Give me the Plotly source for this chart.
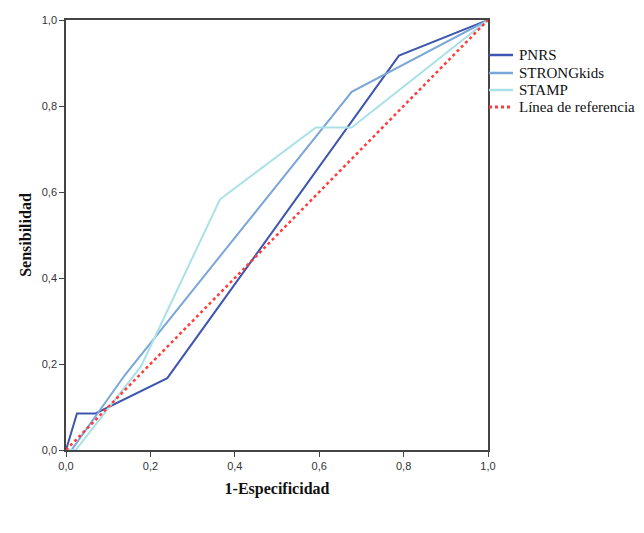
import plotly.graph_objects as go

# ROC curve data (1-Especificidad, Sensibilidad)
pnrs_x = [0.0, 0.0, 0.026, 0.07, 0.24, 0.789, 1.0]
pnrs_y = [0.0, 0.0, 0.085, 0.085, 0.167, 0.917, 1.0]

strong_x = [0.0, 0.013, 0.14, 0.677, 1.0]
strong_y = [0.0, 0.0, 0.175, 0.833, 1.0]

stamp_x = [0.0, 0.023, 0.178, 0.365, 0.592, 0.677, 1.0]
stamp_y = [0.0, 0.0, 0.195, 0.583, 0.75, 0.75, 1.0]

ref_x = [0.0, 1.0]
ref_y = [0.0, 1.0]

names = ["PNRS", "STRONGkids", "STAMP", "Línea de referencia"]
colors = ["#3E56AF", "#7AA6D8", "#A9E1E8", "#FF3B3B"]
dashes = ["solid", "solid", "solid", "dot"]
widths = [2, 2, 2, 2.5]

fig = go.Figure()
series = [(pnrs_x, pnrs_y), (strong_x, strong_y), (stamp_x, stamp_y), (ref_x, ref_y)]
for (xs, ys), nm, c, d, w in zip(series, names, colors, dashes, widths):
    fig.add_trace(go.Scatter(x=xs, y=ys, mode="lines", name=nm, showlegend=False,
                             line=dict(color=c, width=w, dash=d)))

axis_common = dict(
    range=[0, 1], tickvals=[0, 0.2, 0.4, 0.6, 0.8, 1.0], tickformat=".1f",
    showgrid=False, zeroline=False, showline=True, linecolor="#444444",
    linewidth=1.5, mirror=True, ticks="outside", ticklen=5, tickcolor="#444444",
    tickfont=dict(family="Liberation Sans, Arial, sans-serif", size=11, color="#333333"),
)

# Legend drawn in paper coordinates (plot area spans 66..488 px, 20..450 px)
W, H, L, T = 422.0, 430.0, 66.0, 20.0
def px_x(p):
    return (p - L) / W
def px_y(p):
    return (H + T - p) / H

legend_rows = [55, 73, 90, 107]
shapes = []
annotations = []
for row, nm, c, d, w in zip(legend_rows, names, colors, dashes, widths):
    shapes.append(dict(type="line", xref="paper", yref="paper",
                       x0=px_x(489), x1=px_x(513), y0=px_y(row), y1=px_y(row),
                       line=dict(color=c, width=w + 0.5, dash=d)))
    annotations.append(dict(xref="paper", yref="paper", x=px_x(517), y=px_y(row),
                            xanchor="left", yanchor="middle", showarrow=False, text=nm,
                            font=dict(family="Liberation Serif, Times New Roman, serif",
                                      size=15, color="#111111")))

title_font = dict(family="Liberation Serif, Times New Roman, serif", size=16, color="#111111")

fig.update_layout(
    width=644, height=533,
    margin=dict(l=66, r=156, t=20, b=83),
    paper_bgcolor="white", plot_bgcolor="white",
    separators=",.",
    xaxis=dict(**axis_common,
               title=dict(text="<b>1-Especificidad</b>", standoff=12, font=title_font)),
    yaxis=dict(**axis_common,
               title=dict(text="<b>Sensibilidad</b>", standoff=6, font=title_font)),
    shapes=shapes,
    annotations=annotations,
    showlegend=False,
)

fig.write_html("out.html")
